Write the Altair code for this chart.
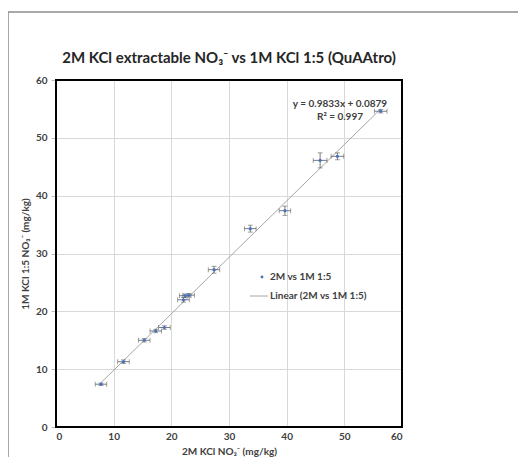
import altair as alt
import pandas as pd

# Data
x_vals = [7.8, 11.7, 15.3, 17.3, 18.8, 22.1, 22.4, 23.0, 27.4, 33.7, 39.7, 45.8, 48.8, 56.3]
y_vals = [7.4, 11.3, 15.0, 16.6, 17.2, 22.0, 22.7, 22.8, 27.2, 34.3, 37.4, 46.1, 46.8, 54.6]
x_err = [1.0, 1.0, 1.0, 1.0, 1.0, 1.0, 1.0, 1.0, 1.0, 1.0, 1.0, 1.2, 1.1, 1.1]
y_err = [0.2, 0.3, 0.3, 0.3, 0.3, 0.4, 0.3, 0.3, 0.6, 0.6, 0.8, 1.3, 0.6, 0.3]

title_text = "2M KCl extractable NO\u2083\u207b vs 1M KCl 1:5 (QuAAtro)"
x_title = "2M KCl NO\u2083\u207b (mg/kg)"
y_title = "1M KCl 1:5 NO\u2083\u207b (mg/kg)"
eq_lines = ["y = 0.9833x + 0.0879", "R\u00b2 = 0.997"]
legend_labels = ["2M vs 1M 1:5", "Linear (2M vs 1M 1:5)"]

df = pd.DataFrame({"x": x_vals, "y": y_vals, "xe": x_err, "ye": y_err})
df["x_lo"] = df["x"] - df["xe"]
df["x_hi"] = df["x"] + df["xe"]
df["y_lo"] = df["y"] - df["ye"]
df["y_hi"] = df["y"] + df["ye"]

xcaps = pd.DataFrame({"cx": list(df["x_lo"]) + list(df["x_hi"]), "cy": list(df["y"]) * 2})
ycaps = pd.DataFrame({"cx": list(df["x"]) * 2, "cy": list(df["y_lo"]) + list(df["y_hi"])})

FONT = "Lato"
TXT = "#404040"
xs = alt.Scale(domain=[0, 60], nice=False)
ys = alt.Scale(domain=[0, 60], nice=False)
ticks = [0, 10, 20, 30, 40, 50, 60]

xaxis = alt.Axis(values=ticks, title=x_title, grid=True, gridColor="#D9D9D9", domain=False,
                 ticks=False, labelPadding=4, labelFont=FONT, labelFontSize=10, labelFontWeight="bold",
                 labelColor=TXT, titleFont=FONT, titleFontSize=10, titleFontWeight="bold",
                 titleColor=TXT, titlePadding=5)
yaxis = alt.Axis(values=ticks, title=y_title, grid=True, gridColor="#D9D9D9", domain=False,
                 ticks=True, tickSize=5, tickColor="#BFBFBF", labelPadding=4, labelFont=FONT,
                 labelFontSize=10, labelFontWeight="bold", labelColor=TXT, titleFont=FONT,
                 titleFontSize=10, titleFontWeight="bold", titleColor=TXT, titlePadding=5)

base = alt.Chart(df)
one = pd.DataFrame({"a": [0]})

border = alt.Chart(one).mark_rect(
    fillOpacity=0, stroke="#8C8C8C", strokeWidth=1.5
).encode(x=alt.value(-48), y=alt.value(-68), x2=alt.value(700), y2=alt.value(700))

frame = alt.Chart(one).mark_rect(
    fillOpacity=0, stroke="black", strokeWidth=2
).encode(x=alt.value(0), y=alt.value(0), x2=alt.value(346), y2=alt.value(347))

grid = base.mark_point(opacity=0).encode(
    x=alt.X("x:Q", scale=xs, axis=xaxis),
    y=alt.Y("y:Q", scale=ys, axis=yaxis),
)

trend = base.transform_regression("x", "y").mark_line(color="#A6A6A6", strokeWidth=1).encode(
    x=alt.X("x:Q", scale=xs), y=alt.Y("y:Q", scale=ys)
)

err_col = "#595959"
xbar = base.mark_rule(color=err_col, strokeWidth=0.8).encode(
    x=alt.X("x_lo:Q", scale=xs), x2="x_hi:Q", y=alt.Y("y:Q", scale=ys)
)
ybar = base.mark_rule(color=err_col, strokeWidth=0.8).encode(
    x=alt.X("x:Q", scale=xs), y=alt.Y("y_lo:Q", scale=ys), y2="y_hi:Q"
)
xcap = alt.Chart(xcaps).mark_tick(orient="vertical", size=5, thickness=0.8, color=err_col).encode(
    x=alt.X("cx:Q", scale=xs), y=alt.Y("cy:Q", scale=ys)
)
ycap = alt.Chart(ycaps).mark_tick(orient="horizontal", size=5, thickness=0.8, color=err_col).encode(
    x=alt.X("cx:Q", scale=xs), y=alt.Y("cy:Q", scale=ys)
)
pts = base.mark_circle(size=10, color="#4472C4", opacity=1).encode(
    x=alt.X("x:Q", scale=xs), y=alt.Y("y:Q", scale=ys)
)

def label(text, x, y, align, size=10, color=TXT):
    return alt.Chart(one).mark_text(
        text=text, font=FONT, fontSize=size, fontWeight="bold", color=color, align=align, baseline="middle"
    ).encode(x=alt.value(x), y=alt.value(y))

title = label(title_text, 173, -22, "center", size=15, color="#262626")
eq1 = label(eq_lines[0], 284, 24, "center")
eq2 = label(eq_lines[1], 284, 37, "center")

leg_pt = alt.Chart(one).mark_circle(size=8, color="#4472C4", opacity=1).encode(
    x=alt.value(206), y=alt.value(197)
)
leg_line = alt.Chart(one).mark_rule(color="#A6A6A6", strokeWidth=1).encode(
    x=alt.value(194), x2=alt.value(212), y=alt.value(216)
)
leg1 = label(legend_labels[0], 214, 197, "left")
leg2 = label(legend_labels[1], 214, 216, "left")

chart = alt.layer(
    border, grid, trend, xbar, ybar, xcap, ycap, pts, frame, title, eq1, eq2,
    leg_pt, leg_line, leg1, leg2
).properties(
    width=346, height=347,
    autosize=alt.AutoSizeParams(type="none"),
    padding={"left": 48, "top": 72, "right": 116, "bottom": 30},
).configure_view(stroke=None).configure(background="white")

chart.save("out.html", embed_options={"renderer": "svg", "actions": False})
